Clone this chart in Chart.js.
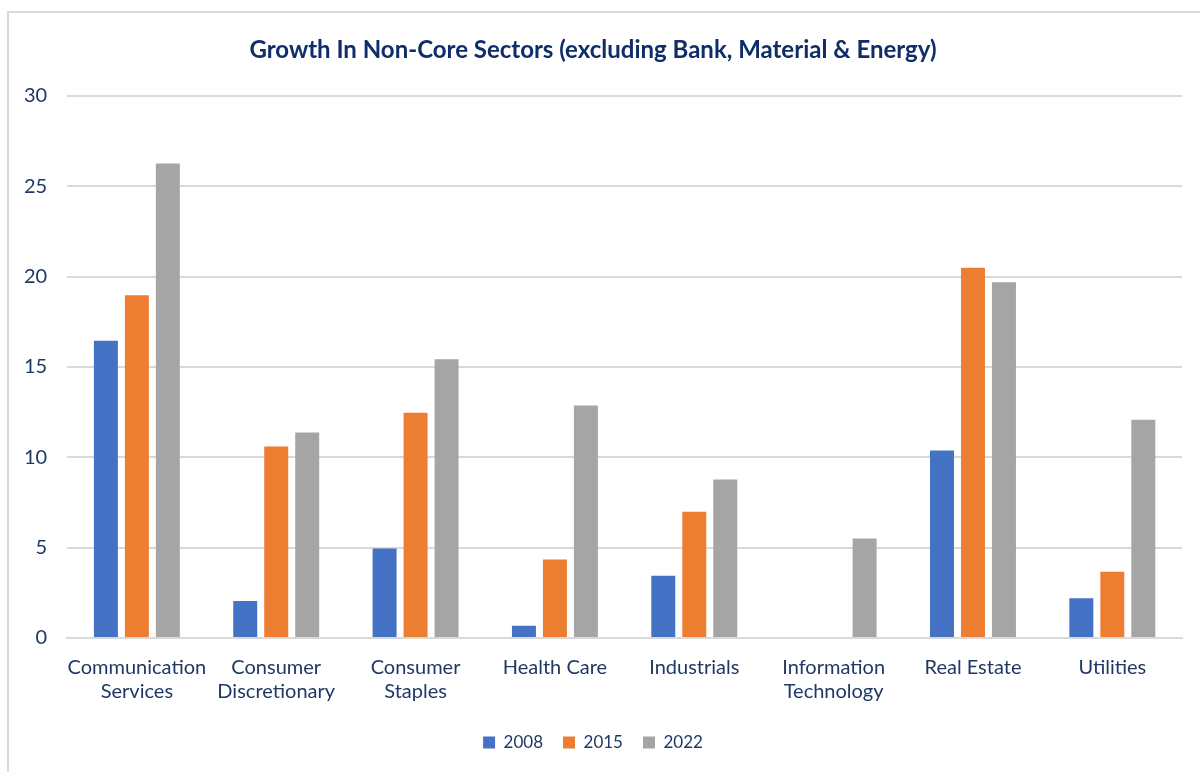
<!DOCTYPE html>
<html>
<head>
<meta charset="utf-8">
<script src="https://cdn.jsdelivr.net/npm/chart.js@4.4.1/dist/chart.umd.min.js"></script>
<style>
  body { margin: 0; background: #fff; }
  #frame {
    position: absolute; left: 7px; top: 11px; width: 1200px; height: 780px;
    border: 2px solid #d9d9d9; box-sizing: border-box;
  }
  #wrap { position: absolute; left: 0; top: 0; width: 1200px; height: 772px; }
</style>
</head>
<body>
<div id="frame"></div>
<div id="wrap"><canvas id="growthChart"></canvas></div>
<script>
const sectors = [
  ['Communication', 'Services'],
  ['Consumer', 'Discretionary'],
  ['Consumer', 'Staples'],
  'Health Care',
  'Industrials',
  ['Information', 'Technology'],
  'Real Estate',
  'Utilities'
];
const growth2008 = [16.45, 2.05, 4.95, 0.68, 3.45, 0, 10.37, 2.2];
const growth2015 = [18.96, 10.6, 12.47, 4.35, 6.98, 0, 20.49, 3.67];
const growth2022 = [26.26, 11.37, 15.43, 12.86, 8.77, 5.5, 19.68, 12.07];
const yTicks = [0, 5, 10, 15, 20, 25, 30];

const textColor = '#1F3864';
const fontFamily = 'Lato, "Open Sans", sans-serif';

const ctx = document.getElementById('growthChart').getContext('2d');

const makeSet = (label, data, color) => ({
  label,
  data,
  backgroundColor: color,
  borderWidth: 0,
  barPercentage: 0.774,
  categoryPercentage: 0.667
});

new Chart(ctx, {
  type: 'bar',
  data: {
    labels: sectors,
    datasets: [
      makeSet('2008', growth2008, '#4472C4'),
      makeSet('2015', growth2015, '#ED7D31'),
      makeSet('2022', growth2022, '#A5A5A5')
    ]
  },
  options: {
    responsive: true,
    maintainAspectRatio: false,
    animation: false,
    layout: { padding: { left: 4, right: 18, top: 28, bottom: 11 } },
    plugins: {
      title: {
        display: true,
        text: 'Growth In Non-Core Sectors (excluding Bank, Material & Energy)',
        color: '#0F2D69',
        font: { family: fontFamily, size: 24, weight: 'bold' },
        padding: { top: 8, bottom: 31 }
      },
      legend: {
        position: 'bottom',
        labels: {
          color: textColor,
          boxWidth: 12,
          boxHeight: 12,
          padding: 20,
          font: { family: fontFamily, size: 17 }
        }
      },
      tooltip: { enabled: false }
    },
    scales: {
      x: {
        grid: { display: false },
        border: { display: true, color: '#d9d9d9', width: 2 },
        ticks: {
          color: textColor,
          maxRotation: 0,
          autoSkip: false,
          padding: 10,
          font: { family: fontFamily, size: 20 }
        }
      },
      y: {
        min: 0,
        max: 30,
        afterBuildTicks: (axis) => { axis.ticks = yTicks.map(v => ({ value: v })); },
        grid: { color: '#d9d9d9', lineWidth: 2, drawTicks: false },
        border: { display: false },
        ticks: {
          color: textColor,
          padding: 20,
          font: { family: fontFamily, size: 20 }
        }
      }
    }
  }
});
</script>
</body>
</html>
